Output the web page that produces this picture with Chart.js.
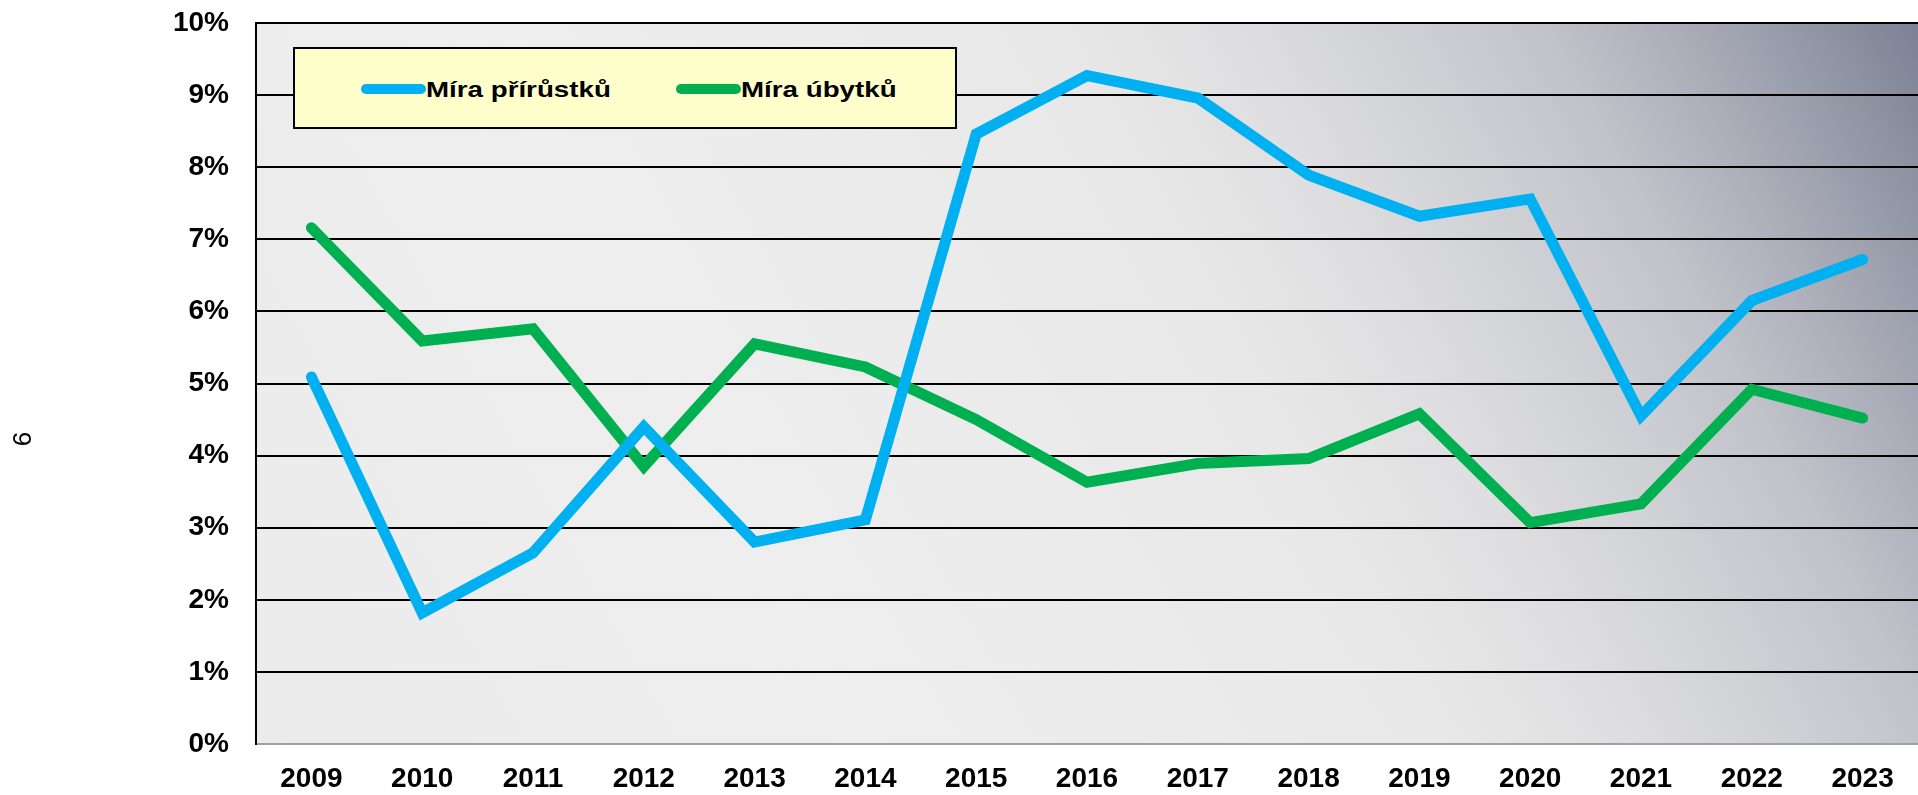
<!DOCTYPE html>
<html>
<head>
<meta charset="utf-8">
<script src="https://cdn.jsdelivr.net/npm/chart.js@4/dist/chart.umd.min.js"></script>
<style>
  html, body { margin: 0; padding: 0; background: #ffffff; }
  #wrap { position: relative; width: 1918px; height: 795px; }
  #chart { display: block; }
  #legend {
    position: absolute; left: 293px; top: 47px; width: 664px; height: 82px;
    box-sizing: border-box; border: 2px solid #000; background: #ffffcc;
    font-family: "Liberation Sans", Arial, sans-serif; font-weight: bold; font-size: 22px; color: #000;
  }
  #legend .item { position: absolute; top: 0; height: 100%; display: flex; align-items: center; }
  #legend .swatch { width: 65px; height: 10px; border-radius: 5px; flex: none; margin-top: 2px; }
  #legend .lbl { display: inline-block; white-space: nowrap; transform: scaleX(1.26); transform-origin: left center; margin-top: 4px; }
</style>
</head>
<body>
<div id="wrap">
  <canvas id="chart" width="1918" height="795"></canvas>
  <div id="legend"></div>
</div>
<script>
// ---- data ----
const years = ['2009','2010','2011','2012','2013','2014','2015','2016','2017','2018','2019','2020','2021','2022','2023'];
const seriesNames = ['Míra přírůstků', 'Míra úbytků'];
const miraPrirustku = [5.09, 1.82, 2.65, 4.40, 2.80, 3.11, 8.46, 9.27, 8.96, 7.89, 7.32, 7.56, 4.55, 6.15, 6.72];
const miraUbytku   = [7.16, 5.59, 5.76, 3.85, 5.55, 5.23, 4.50, 3.63, 3.89, 3.96, 4.58, 3.07, 3.33, 4.92, 4.52];
const yTickValues = [0, 1, 2, 3, 4, 5, 6, 7, 8, 9, 10];
const sideNote = '9';

const FONT = '"Liberation Sans", Arial, sans-serif';
const colors = ['#00b0f0', '#00b050'];

const bgPlugin = {
  id: 'plotBg',
  beforeDraw(chart) {
    const { ctx, chartArea: a } = chart;
    const w = a.right - a.left, h = a.bottom - a.top, k = 0.55;
    const umax = w + k * h;
    const s = umax / (1 + k * k);
    const g = ctx.createLinearGradient(a.left, a.bottom, a.left + s, a.bottom - s * k);
    g.addColorStop(0.00, '#ebebeb');
    g.addColorStop(0.30, '#eeeeee');
    g.addColorStop(0.58, '#e8e8e8');
    g.addColorStop(0.66, '#dfdfe1');
    g.addColorStop(0.76, '#cdced3');
    g.addColorStop(0.82, '#c0c2c9');
    g.addColorStop(0.90, '#a4a7b3');
    g.addColorStop(1.00, '#7c8194');
    ctx.save();
    ctx.fillStyle = g;
    ctx.fillRect(a.left, a.top, w, h);
    ctx.restore();
  }
};

const sideNotePlugin = {
  id: 'sideNote',
  afterDraw(chart) {
    const { ctx } = chart;
    ctx.save();
    ctx.translate(20, 439);
    ctx.rotate(Math.PI / 2);
    ctx.font = '26px ' + FONT;
    ctx.fillStyle = '#000';
    ctx.textAlign = 'center';
    ctx.textBaseline = 'middle';
    ctx.fillText(sideNote, 0, 0);
    ctx.restore();
  }
};

const chart = new Chart(document.getElementById('chart'), {
  type: 'line',
  data: {
    labels: years,
    datasets: [
      { label: seriesNames[0], data: miraPrirustku, borderColor: colors[0], backgroundColor: colors[0] },
      { label: seriesNames[1], data: miraUbytku, borderColor: colors[1], backgroundColor: colors[1] }
    ]
  },
  options: {
    responsive: false,
    animation: false,
    layout: { padding: { top: 23, left: 0, right: 0, bottom: 0 } },
    elements: {
      line: { borderWidth: 11, tension: 0, borderCapStyle: 'round', borderJoinStyle: 'miter', fill: false },
      point: { radius: 0, hoverRadius: 0 }
    },
    plugins: { legend: { display: false }, tooltip: { enabled: false } },
    scales: {
      x: {
        offset: true,
        grid: { display: false, drawTicks: false },
        border: { display: true, color: '#a0a0a0', width: 2 },
        ticks: { color: '#000', font: { family: FONT, size: 28, weight: 'bold' }, padding: 18, maxRotation: 0, autoSkip: false },
        afterFit(scale) { scale.height = 51; scale.paddingLeft = 0; scale.paddingRight = 0; }
      },
      y: {
        min: 0, max: 10,
        afterBuildTicks(scale) { scale.ticks = yTickValues.map(v => ({ value: v })); },
        grid: {
          drawTicks: false,
          color: ctx => (ctx.tick && ctx.tick.value === 0 ? '#a0a0a0' : '#000'),
          lineWidth: 2
        },
        border: { display: true, color: '#000', width: 2 },
        ticks: { color: '#000', font: { family: FONT, size: 28, weight: 'bold' }, padding: 27, callback: v => v + '%' },
        afterFit(scale) { scale.width = 256; scale.paddingTop = 0; scale.paddingBottom = 0; }
      }
    }
  },
  plugins: [bgPlugin, sideNotePlugin]
});

// legend built from the dataset definitions
const legend = document.getElementById('legend');
const itemLefts = [66, 381];
chart.data.datasets.forEach((ds, i) => {
  const item = document.createElement('div');
  item.className = 'item';
  item.style.left = itemLefts[i] + 'px';
  const sw = document.createElement('span');
  sw.className = 'swatch';
  sw.style.background = ds.borderColor;
  const lbl = document.createElement('span');
  lbl.className = 'lbl';
  lbl.textContent = ds.label;
  item.appendChild(sw);
  item.appendChild(lbl);
  legend.appendChild(item);
});
</script>
</body>
</html>
